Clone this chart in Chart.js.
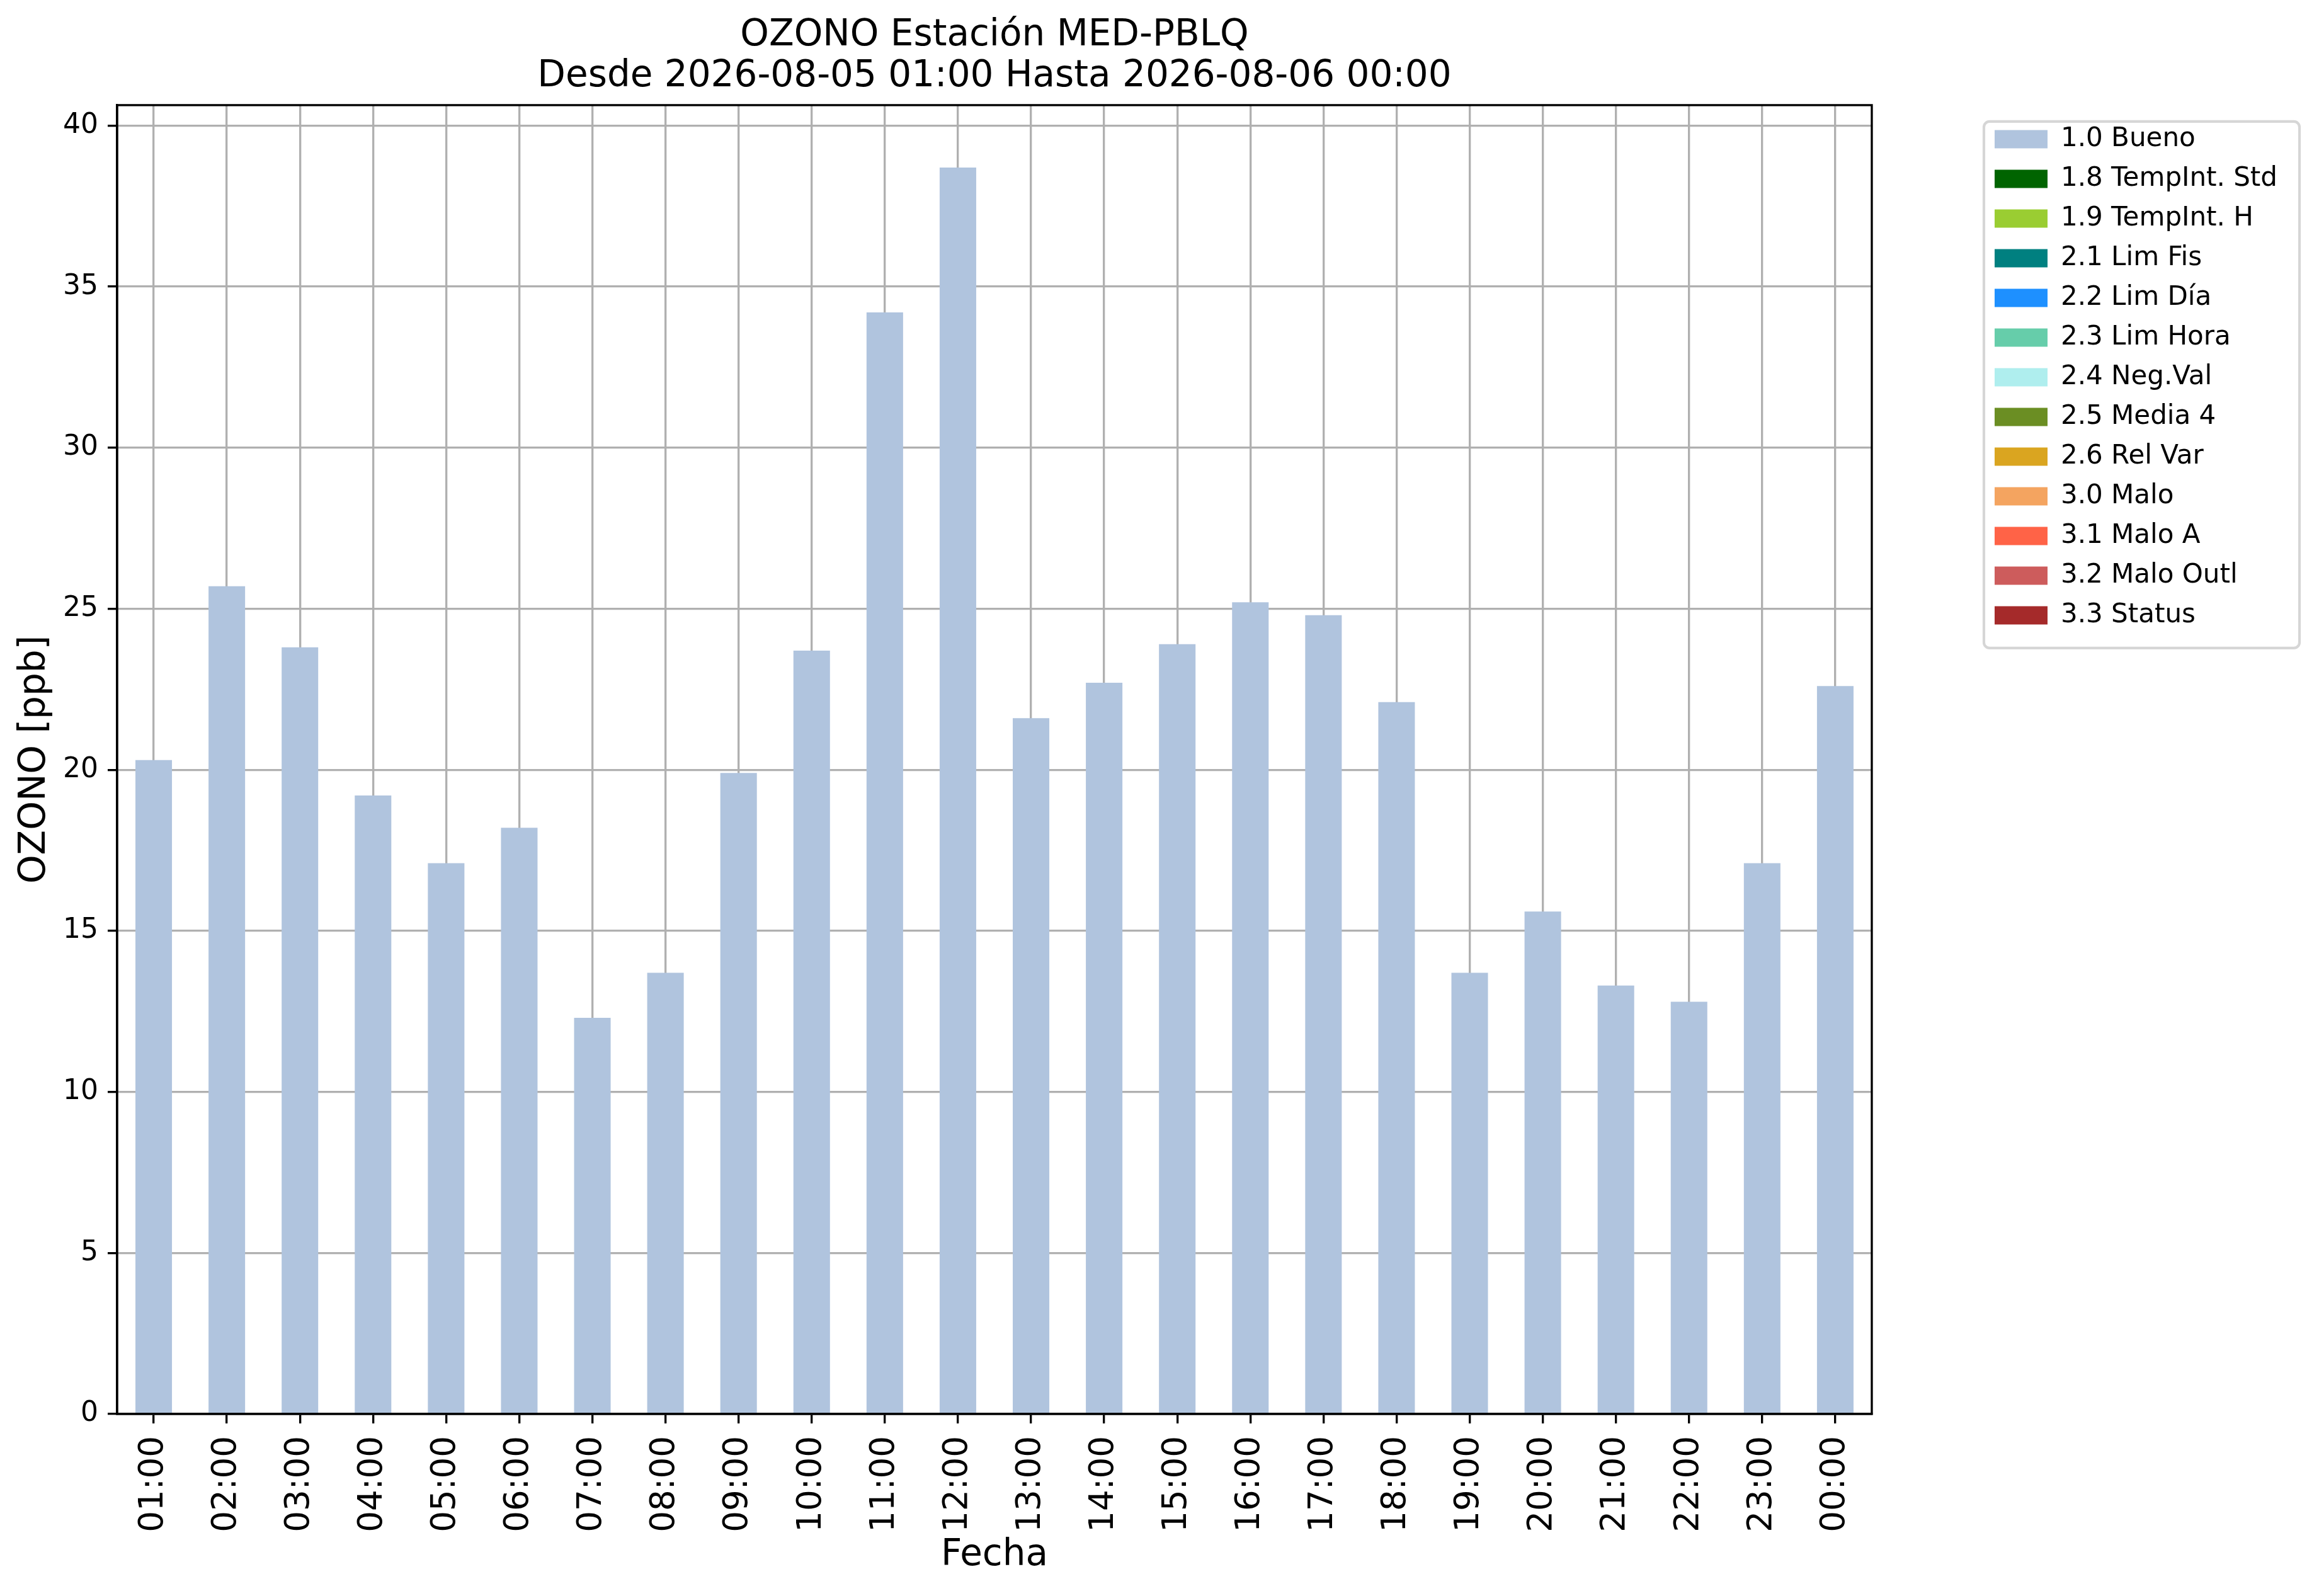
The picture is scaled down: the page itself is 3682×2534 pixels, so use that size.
<!DOCTYPE html>
<html>
<head>
<meta charset="utf-8">
<script src="https://cdn.jsdelivr.net/npm/chart.js@4.4.1/dist/chart.umd.min.js"></script>
<style>
  html, body { margin: 0; padding: 0; background: #fff; }
  canvas { display: block; }
</style>
</head>
<body>
<canvas id="graficoOzono" width="3682" height="2534"></canvas>
<script>
// horas del dia (eje x)
const horas = ["01:00", "02:00", "03:00", "04:00", "05:00", "06:00", "07:00", "08:00",
  "09:00", "10:00", "11:00", "12:00", "13:00", "14:00", "15:00", "16:00",
  "17:00", "18:00", "19:00", "20:00", "21:00", "22:00", "23:00", "00:00"];

// ozono [ppb], todos con bandera 1.0 Bueno
const ozonoBueno = [20.3, 25.7, 23.8, 19.2, 17.1, 18.2, 12.3, 13.7, 19.9, 23.7, 34.2, 38.7,
  21.6, 22.7, 23.9, 25.2, 24.8, 22.1, 13.7, 15.6, 13.3, 12.8, 17.1, 22.6];

// banderas de calidad y sus colores
const banderas = ["1.0 Bueno", "1.8 TempInt. Std", "1.9 TempInt. H", "2.1 Lim Fis",
  "2.2 Lim Día", "2.3 Lim Hora", "2.4 Neg.Val", "2.5 Media 4", "2.6 Rel Var",
  "3.0 Malo", "3.1 Malo A", "3.2 Malo Outl", "3.3 Status"];
const colores = ["#B0C4DE", "#006400", "#9ACD32", "#008080", "#1E90FF", "#66CDAA",
  "#AFEEEE", "#6B8E23", "#DAA520", "#F4A460", "#FF6347", "#CD5C5C", "#A52A2A"];

const datosPorBandera = { "1.0 Bueno": ozonoBueno };

const yTicks = [0, 5, 10, 15, 20, 25, 30, 35, 40];

Chart.defaults.font.family = "'DejaVu Sans'";
Chart.defaults.color = "#000";

const PT = 300 / 72;
const lw = 0.8 * PT;

// marco de los ejes y del legend
const marco = {
  id: "marco",
  afterLayout(chart) {
    chart.legend.top += 12;
    chart.legend.bottom += 12;
  },
  afterDraw(chart) {
    const ctx = chart.ctx;
    const a = chart.chartArea;
    ctx.save();
    ctx.strokeStyle = "#000";
    ctx.lineWidth = lw;
    ctx.strokeRect(a.left, a.top, a.right - a.left, a.bottom - a.top);

    const L = chart.legend;
    const n = L.legendItems.length;
    const x = L.left + 4, y = L.top + 14;
    const w = L.width + 21, h = n * 63 + 17;
    ctx.strokeStyle = "#d6d6d6";
    ctx.lineWidth = 1.0 * PT;
    ctx.beginPath();
    if (ctx.roundRect) ctx.roundRect(x, y, w, h, 9);
    else ctx.rect(x, y, w, h);
    ctx.stroke();
    ctx.restore();
  }
};

const ctx = document.getElementById("graficoOzono").getContext("2d");
const grafico = new Chart(ctx, {
  type: "bar",
  data: {
    labels: horas,
    datasets: banderas.map((b, i) => ({
      label: b,
      data: datosPorBandera[b] || [],
      backgroundColor: colores[i],
      borderWidth: 0,
      yAxisID: "y",
      categoryPercentage: 1.0,
      barPercentage: 0.5
    }))
  },
  options: {
    responsive: false,
    animation: false,
    devicePixelRatio: 1,
    layout: { padding: { top: 0, left: 10, right: 56, bottom: 20 } },
    plugins: {
      title: {
        display: true,
        fullSize: false,
        text: ["OZONO Estación MED-PBLQ", "Desde 2026-08-05 01:00 Hasta 2026-08-06 00:00"],
        color: "#000",
        font: { size: 58, weight: "normal", lineHeight: 1.12 },
        padding: { top: 24, bottom: 13 }
      },
      legend: {
        position: "right",
        align: "start",
        fullSize: false,
        labels: {
          boxWidth: 84,
          boxHeight: 29,
          padding: 21,
          color: "#000",
          font: { size: 42 }
        }
      },
      tooltip: { enabled: false }
    },
    scales: {
      x: {
        stacked: true,
        z: 1,
        offset: true,
        afterFit: s => { s.height = 269; },
        grid: {
          offset: false,
          color: "#b0b0b0",
          lineWidth: lw,
          tickLength: 15,
          tickColor: "#000",
          tickWidth: lw
        },
        border: { display: true, color: "#000", width: lw },
        ticks: {
          minRotation: 90,
          maxRotation: 90,
          autoSkip: false,
          padding: 20,
          color: "#000",
          font: { size: 53 }
        },
        title: {
          display: true,
          text: "Fecha",
          color: "#000",
          font: { size: 58, lineHeight: 1.2 },
          padding: { top: 8, bottom: 9 }
        }
      },
      y: {
        stacked: true,
        z: 1,
        min: 0,
        max: Math.max(...ozonoBueno) * 1.05,
        afterFit: s => { s.width = 176; },
        afterBuildTicks: s => { s.ticks = yTicks.map(v => ({ value: v })); },
        grid: {
          color: "#b0b0b0",
          lineWidth: lw,
          tickLength: 15,
          tickColor: "#000",
          tickWidth: lw
        },
        border: { display: true, color: "#000", width: lw },
        ticks: {
          padding: 15,
          color: "#000",
          font: { size: 44 }
        },
        title: {
          display: true,
          text: "OZONO [ppb]",
          color: "#000",
          font: { size: 58, lineHeight: 1.2 },
          padding: { top: 11, bottom: 9 }
        }
      },
      hueco: {
        type: "linear",
        axis: "y",
        position: "right",
        grid: { display: false },
        border: { display: false },
        ticks: { display: false },
        afterFit: s => { s.width = 174; }
      }
    }
  },
  plugins: [marco]
});
</script>
</body>
</html>
